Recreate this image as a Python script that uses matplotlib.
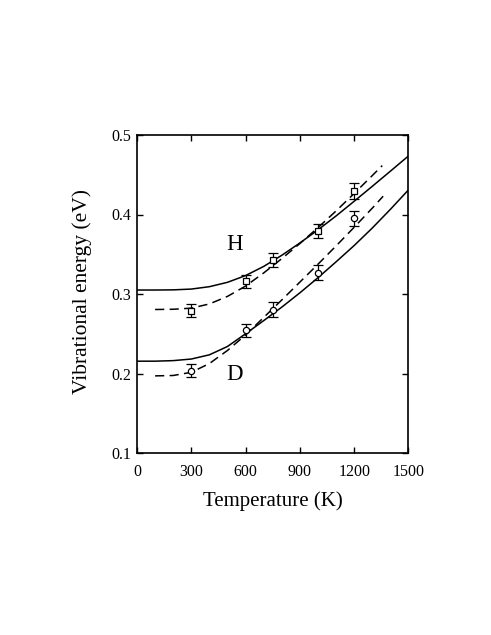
import matplotlib
matplotlib.use("Agg")
import matplotlib.pyplot as plt

plt.rcParams['font.family'] = ['Liberation Serif', 'DejaVu Serif']
plt.rcParams['mathtext.fontset'] = 'stix'

# ---- data ----
T_pts = [300, 600, 750, 1000, 1200]
H_pts = [0.279, 0.316, 0.343, 0.379, 0.430]
H_err = [0.008, 0.008, 0.009, 0.009, 0.010]
D_pts = [0.2035, 0.2545, 0.2805, 0.327, 0.395]
D_err = [0.008, 0.008, 0.009, 0.009, 0.010]

T_solid = [0, 100, 200, 300, 400, 500, 600, 700, 800, 900, 1000, 1100, 1200, 1300, 1400, 1500]
H_solid = [0.305, 0.305, 0.3052, 0.3062, 0.3092, 0.3147, 0.3232, 0.3347, 0.3487, 0.3642,
           0.3807, 0.3982, 0.4167, 0.4355, 0.4545, 0.4737]
D_solid = [0.2155, 0.2155, 0.2162, 0.2182, 0.2235, 0.2340, 0.2500, 0.2665, 0.2835, 0.3015,
           0.3205, 0.3405, 0.3610, 0.3830, 0.4065, 0.4310]

T_dash = [100, 200, 300, 400, 500, 600, 700, 800, 900, 1000, 1100, 1200, 1300, 1355]
H_dash = [0.2805, 0.2808, 0.2822, 0.2875, 0.2970, 0.3100, 0.3265, 0.3445, 0.3635, 0.3835,
          0.4045, 0.4265, 0.4490, 0.4615]
T_dash_D = [100, 200, 300, 400, 500, 600, 700, 800, 900, 1000, 1100, 1200, 1300, 1360]
D_dash = [0.197, 0.1975, 0.2015, 0.2125, 0.2290, 0.2485, 0.2705, 0.2925, 0.3150, 0.3375,
          0.3605, 0.3840, 0.4080, 0.4230]

x_ticks = [0, 300, 600, 900, 1200, 1500]
y_ticks = [0.1, 0.2, 0.3, 0.4, 0.5]

fig = plt.figure(figsize=(4.91, 6.35), dpi=100)
ax = fig.add_axes([137 / 491, 1 - 453 / 635, (408.5 - 137) / 491, (453 - 135) / 635])

lw = 1.1
ax.plot(T_solid, H_solid, color='black', lw=lw)
ax.plot(T_solid, D_solid, color='black', lw=lw)
ax.plot(T_dash, H_dash, color='black', lw=lw, linestyle=(0, (6, 3.5)))
ax.plot(T_dash_D, D_dash, color='black', lw=lw, linestyle=(0, (6, 3.5)))

ax.errorbar(T_pts, H_pts, yerr=H_err, fmt='s', ms=4.5, mfc='white', mec='black',
            mew=0.9, ecolor='black', elinewidth=0.9, capsize=3.8, capthick=0.9, zorder=5)
ax.errorbar(T_pts, D_pts, yerr=D_err, fmt='o', ms=4.5, mfc='white', mec='black',
            mew=0.9, ecolor='black', elinewidth=0.9, capsize=3.8, capthick=0.9, zorder=5)

ax.text(541, 0.362, 'H', fontsize=16.5, ha='center', va='center')
ax.text(541, 0.1985, 'D', fontsize=16.5, ha='center', va='center')

ax.set_xlim(0, 1500)
ax.set_ylim(0.1, 0.5)
ax.set_xticks(x_ticks)
ax.set_yticks(y_ticks)
ax.set_xticklabels([str(v) for v in x_ticks])
ax.set_yticklabels(['%.1f' % v for v in y_ticks])
ax.tick_params(direction='in', top=True, right=True, length=4, width=1.0,
               labelsize=11.5)
ax.tick_params(axis='x', pad=8)
ax.tick_params(axis='y', pad=4)
for s in ax.spines.values():
    s.set_linewidth(1.2)

ax.set_xlabel('Temperature (K)', fontsize=15)
ax.set_ylabel('Vibrational energy (eV)', fontsize=15.5)
ax.xaxis.set_label_coords(0.5, -0.12)
ax.yaxis.set_label_coords(-0.166, 0.508)

fig.savefig('out.png', dpi=100)
